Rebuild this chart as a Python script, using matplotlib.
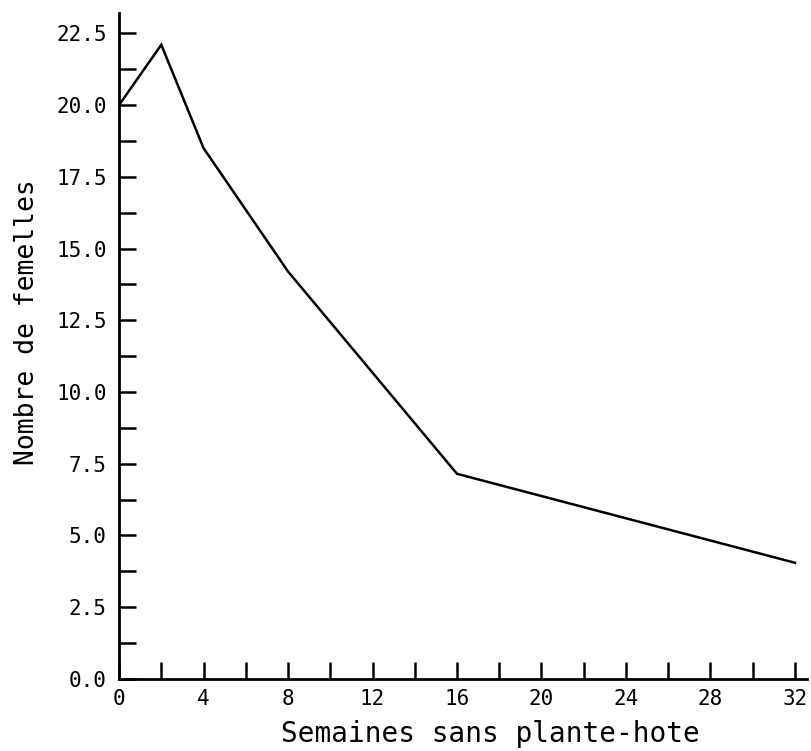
import matplotlib
matplotlib.use("Agg")
import matplotlib.pyplot as plt
from matplotlib.ticker import MultipleLocator, FixedLocator, FormatStrFormatter

# Weeks without host plant vs. number of females
weeks = [0, 2, 4, 8, 16, 32]
females = [20.0, 22.1, 18.5, 14.2, 7.15, 4.05]

x_tick_labels = [0, 4, 8, 12, 16, 20, 24, 28, 32]

plt.rcParams["font.family"] = ["DejaVu Sans Mono"]

fig = plt.figure(figsize=(8.12, 7.51), dpi=100)
ax = fig.add_axes([0.1466, 0.0959, 0.8467, 0.8865])

ax.plot(weeks, females, color="black", linewidth=1.8, solid_joinstyle="miter")

ax.set_xlim(0, 32.55)
ax.set_ylim(0, 23.2)

ax.spines["top"].set_visible(False)
ax.spines["right"].set_visible(False)
for s in ("left", "bottom"):
    ax.spines[s].set_linewidth(2.0)

ax.xaxis.set_major_locator(FixedLocator(x_tick_labels))
ax.xaxis.set_minor_locator(MultipleLocator(2))
ax.yaxis.set_major_locator(MultipleLocator(2.5))
ax.yaxis.set_minor_locator(MultipleLocator(1.25))
ax.yaxis.set_major_formatter(FormatStrFormatter("%.1f"))

ax.tick_params(which="both", direction="in", length=12, width=1.8,
               color="black", labelsize=15)
ax.tick_params(axis="y", pad=9)
ax.tick_params(axis="x", pad=7)

ax.set_xlabel("Semaines sans plante-hote", fontsize=20, va="baseline")
ax.set_ylabel("Nombre de femelles", fontsize=19)
ax.xaxis.set_label_coords(0.54, -0.094)
ax.yaxis.set_label_coords(-0.115, 0.536)

fig.savefig("out.png", dpi=100, facecolor="white")
